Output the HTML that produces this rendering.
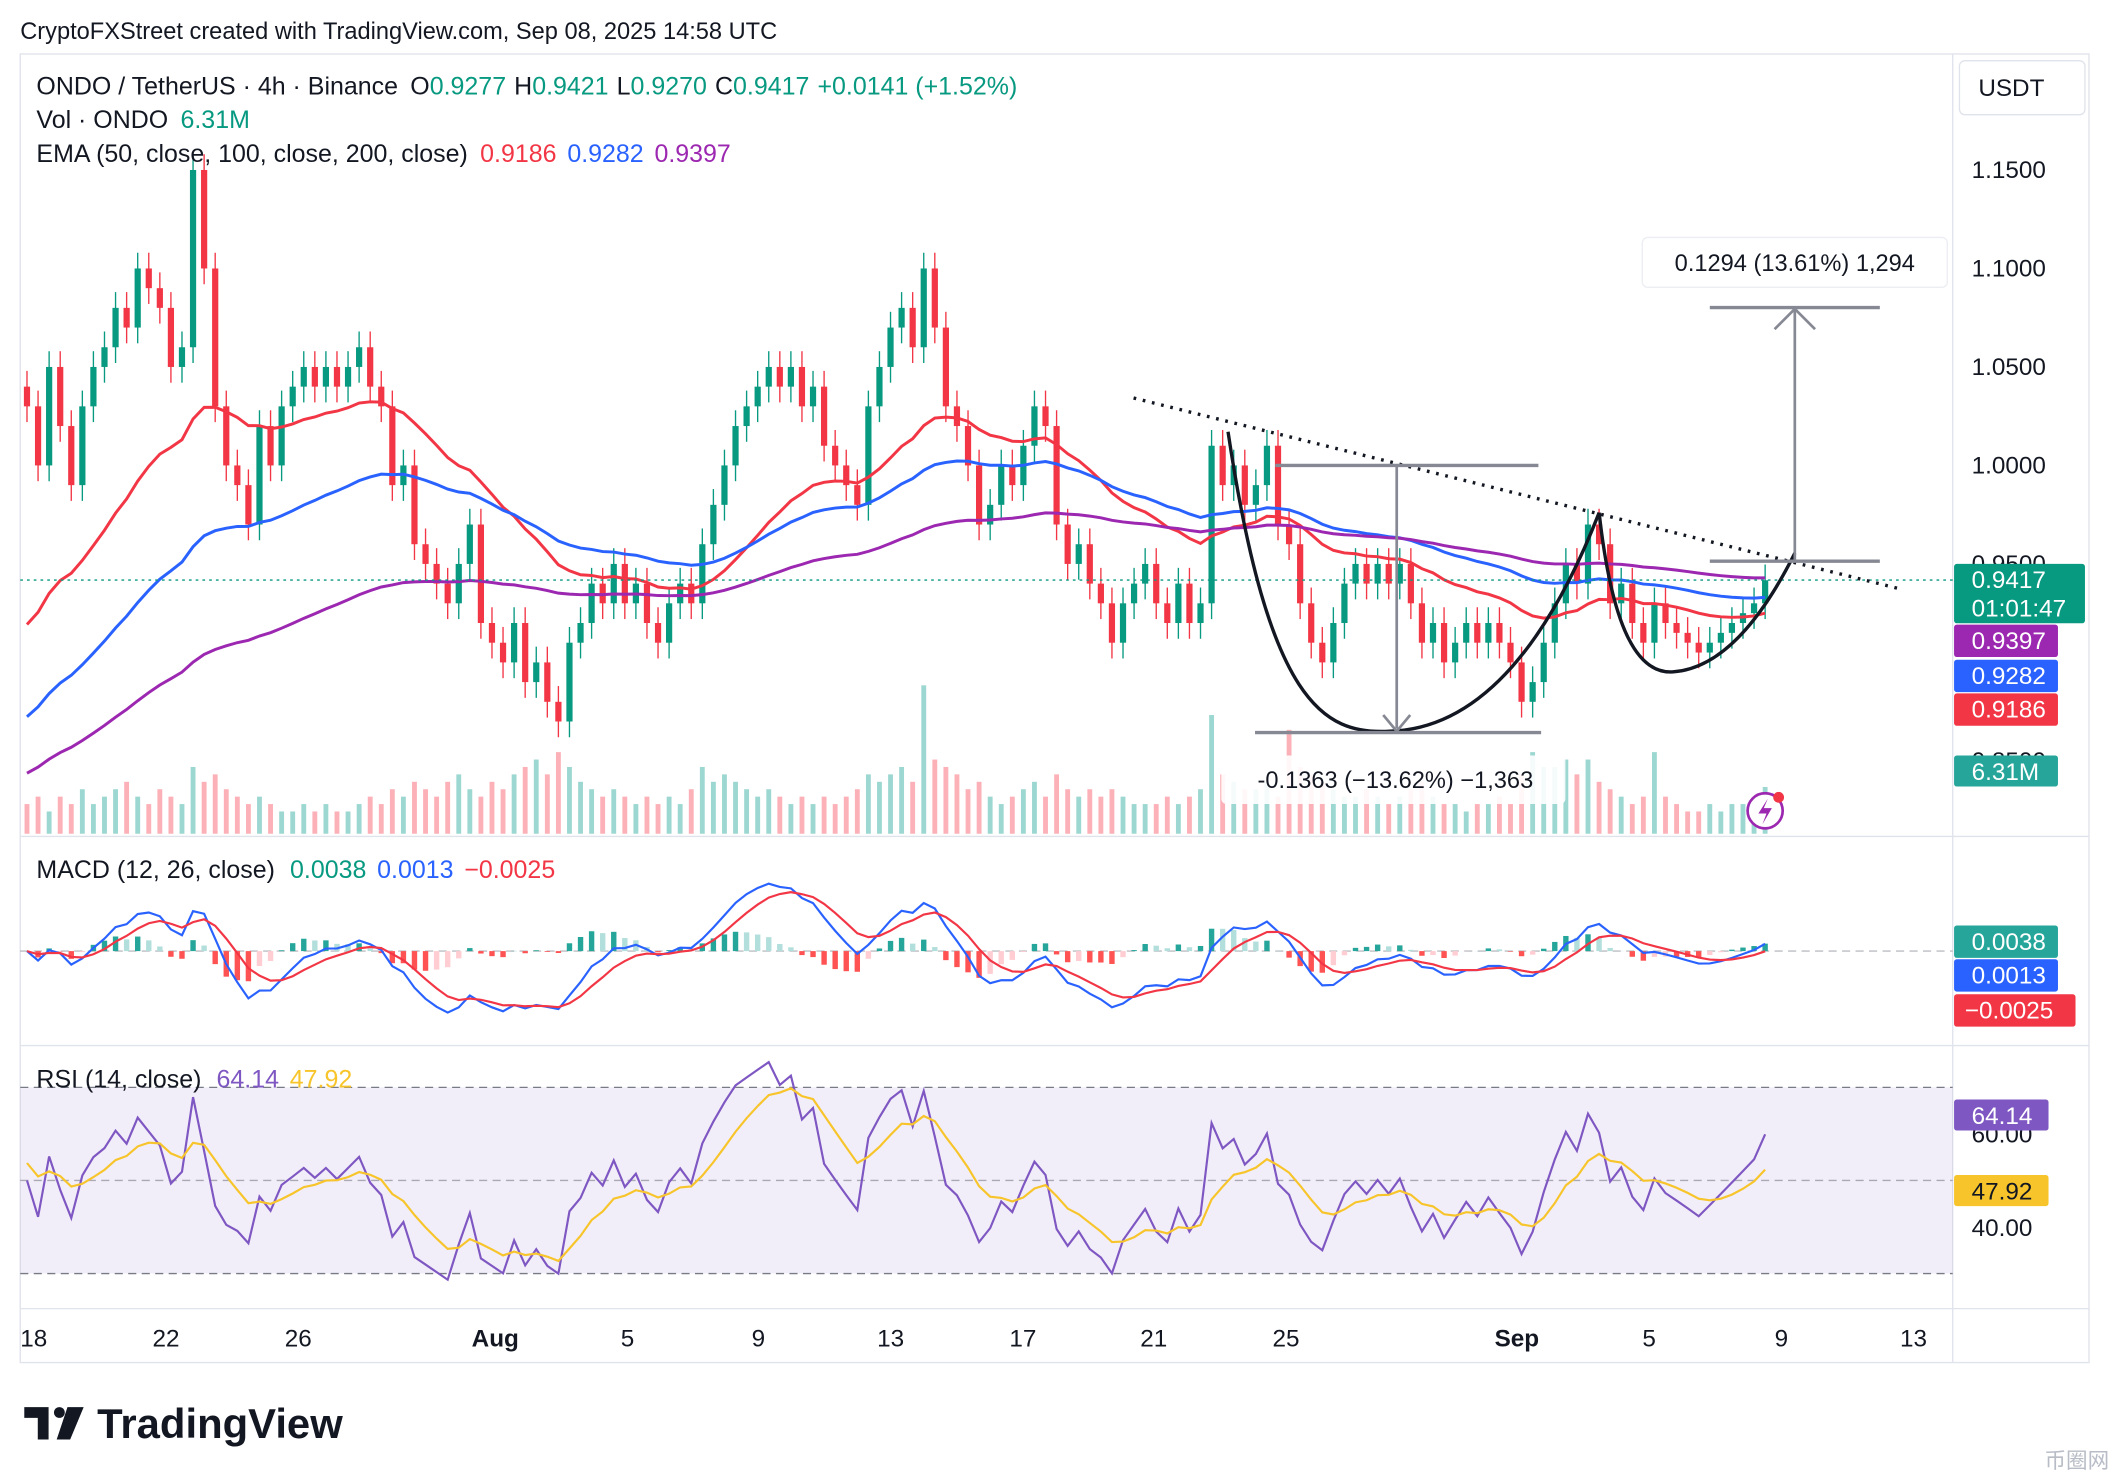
<!DOCTYPE html>
<html><head><meta charset="utf-8">
<style>
html,body{margin:0;padding:0;background:#fff;}
svg{display:block;font-family:"Liberation Sans",Arial,sans-serif;}
</style></head>
<body>
<svg id="chart" width="2116" height="1484" viewBox="0 0 1568 1100" preserveAspectRatio="none" xmlns="http://www.w3.org/2000/svg">
<rect x="0" y="0" width="1568" height="1100" fill="#fff"/>
<text x="15" y="29" font-size="17.5" fill="#131722">CryptoFXStreet created with TradingView.com, Sep 08, 2025 14:58 UTC</text>
<rect x="15" y="40" width="1533" height="970" fill="none" stroke="#e0e3eb"/>
<line x1="1447" y1="40" x2="1447" y2="1010" stroke="#e0e3eb"/>
<line x1="15" y1="620" x2="1548" y2="620" stroke="#e0e3eb"/>
<line x1="15" y1="775" x2="1548" y2="775" stroke="#e0e3eb"/>
<line x1="15" y1="970" x2="1548" y2="970" stroke="#e0e3eb"/>
<rect x="15" y="806" width="1432" height="138" fill="#7e57c2" fill-opacity="0.1"/>
<line x1="15" y1="806" x2="1447" y2="806" stroke="#787b86" stroke-dasharray="6 4"/>
<line x1="15" y1="875" x2="1447" y2="875" stroke="#787b86" stroke-opacity="0.6" stroke-dasharray="6 4"/>
<line x1="15" y1="944" x2="1447" y2="944" stroke="#787b86" stroke-dasharray="6 4"/>
<line x1="15" y1="705" x2="1447" y2="705" stroke="#787b86" stroke-opacity="0.5" stroke-dasharray="6 4"/>
<g id="vol"></g><g id="candles"></g><g id="emas"></g><g id="macd"></g><g id="rsi"></g>
<line x1="15" y1="430" x2="1447" y2="430" stroke="#089981" stroke-dasharray="2 3"/>
<g fill="none">
<line x1="840" y1="295" x2="1410" y2="437" stroke="#131722" stroke-width="2.5" stroke-dasharray="2 5"/>
<path d="M910,320 C940,520 980,545 1030,542 C1100,540 1150,470 1185,380" stroke="#131722" stroke-width="2.5"/>
<path d="M1185,380 C1195,470 1215,500 1240,498 C1280,495 1310,450 1330,410" stroke="#131722" stroke-width="2.5"/>
<line x1="945" y1="345" x2="1140" y2="345" stroke="#868993" stroke-width="2.5"/>
<line x1="930" y1="543" x2="1142" y2="543" stroke="#868993" stroke-width="2.5"/>
<line x1="1035" y1="345" x2="1035" y2="540" stroke="#868993" stroke-width="2"/>
<path d="M1025,530 L1035,542 L1045,530" stroke="#868993" stroke-width="2"/>
<line x1="1267" y1="416" x2="1393" y2="416" stroke="#868993" stroke-width="2.5"/>
<line x1="1267" y1="228" x2="1393" y2="228" stroke="#868993" stroke-width="2.5"/>
<line x1="1330" y1="416" x2="1330" y2="230" stroke="#868993" stroke-width="2"/>
<path d="M1315,244 L1330,229 L1345,244" stroke="#868993" stroke-width="2"/>
</g>
<g>
<rect x="1217" y="176" width="226" height="37" rx="4" fill="#fff" stroke="#eceef2"/>
<text x="1330" y="201" font-size="17.5" fill="#131722" text-anchor="middle">0.1294 (13.61%) 1,294</text>
</g>
<g>
<rect x="905" y="560" width="255" height="36" rx="4" fill="#fff" fill-opacity="0.9"/>
<text x="1034" y="584" font-size="17.5" fill="#131722" text-anchor="middle">-0.1363 (−13.62%) −1,363</text>
</g>
<g font-size="18.5">
<text x="27" y="70" fill="#131722">ONDO / TetherUS · 4h · Binance <tspan dx="4">O</tspan><tspan fill="#089981">0.9277</tspan><tspan dx="6">H</tspan><tspan fill="#089981">0.9421</tspan><tspan dx="6">L</tspan><tspan fill="#089981">0.9270</tspan><tspan dx="6">C</tspan><tspan fill="#089981">0.9417</tspan><tspan dx="6" fill="#089981">+0.0141 (+1.52%)</tspan></text>
<text x="27" y="95" fill="#131722">Vol · ONDO <tspan dx="4" fill="#089981">6.31M</tspan></text>
<text x="27" y="120" fill="#131722">EMA (50, close, 100, close, 200, close) <tspan dx="4" fill="#f23645">0.9186</tspan><tspan dx="8" fill="#2962ff">0.9282</tspan><tspan dx="8" fill="#9c27b0">0.9397</tspan></text>
<text x="27" y="651" fill="#131722">MACD (12, 26, close) <tspan dx="6" fill="#089981">0.0038</tspan><tspan dx="8" fill="#2962ff">0.0013</tspan><tspan dx="8" fill="#f23645">−0.0025</tspan></text>
<text x="27" y="806" fill="#131722">RSI (14, close) <tspan dx="6" fill="#7e57c2">64.14</tspan><tspan dx="8" fill="#f7c52b">47.92</tspan></text>
</g>
<g font-size="18" fill="#131722">
<rect x="1452" y="45" width="93" height="40" rx="4" fill="#fff" stroke="#e0e3eb"/>
<text x="1466" y="71">USDT</text>
<text x="1461" y="132">1.1500</text>
<text x="1461" y="205">1.1000</text>
<text x="1461" y="278">1.0500</text>
<text x="1461" y="351">1.0000</text>
<text x="1461" y="424">0.9500</text>
<text x="1461" y="570">0.8500</text>
<rect x="1448" y="418" width="97" height="44" rx="2" fill="#089981"/>
<text x="1461" y="436" fill="#fff">0.9417</text><text x="1461" y="457" fill="#fff">01:01:47</text>
<rect x="1448" y="463" width="77" height="24" rx="2" fill="#9c27b0"/><text x="1461" y="481" fill="#fff">0.9397</text>
<rect x="1448" y="489" width="77" height="24" rx="2" fill="#2962ff"/><text x="1461" y="507" fill="#fff">0.9282</text>
<rect x="1448" y="514" width="77" height="24" rx="2" fill="#f23645"/><text x="1461" y="532" fill="#fff">0.9186</text>
<rect x="1448" y="560" width="77" height="23" rx="2" fill="#26a69a"/><text x="1461" y="578" fill="#fff">6.31M</text>
<rect x="1448" y="686" width="77" height="24" rx="2" fill="#26a69a"/><text x="1461" y="704" fill="#fff">0.0038</text>
<rect x="1448" y="711" width="77" height="24" rx="2" fill="#2962ff"/><text x="1461" y="729" fill="#fff">0.0013</text>
<rect x="1448" y="737" width="90" height="24" rx="2" fill="#f23645"/><text x="1456" y="755" fill="#fff">−0.0025</text>
<text x="1461" y="847">60.00</text>
<rect x="1448" y="815" width="70" height="23" rx="2" fill="#7e57c2"/><text x="1461" y="833" fill="#fff">64.14</text>
<rect x="1448" y="871" width="70" height="23" rx="2" fill="#f7c52b"/><text x="1461" y="889" fill="#131722">47.92</text>
<text x="1461" y="916">40.00</text>
</g>
<g font-size="18" fill="#131722" text-anchor="middle">
<text x="25" y="998">18</text><text x="123" y="998">22</text><text x="221" y="998">26</text>
<text x="367" y="998" font-weight="bold">Aug</text><text x="465" y="998">5</text><text x="562" y="998">9</text>
<text x="660" y="998">13</text><text x="758" y="998">17</text><text x="855" y="998">21</text>
<text x="953" y="998">25</text><text x="1124" y="998" font-weight="bold">Sep</text><text x="1222" y="998">5</text>
<text x="1320" y="998">9</text><text x="1418" y="998">13</text>
</g>
<g>
<circle cx="1308" cy="601" r="13" fill="#fff" stroke="#9c27b0" stroke-width="2"/>
<path d="M1310,592 L1303,603 L1309,603 L1306,611 L1313,599 L1307,599 Z" fill="#9c27b0"/>
<circle cx="1318" cy="591" r="4" fill="#f23645"/>
</g>
<g>
<path d="M18,1043 h18 v24 h-8 v-16 h-10 z" fill="#131722"/>
<circle cx="44" cy="1047" r="4" fill="#131722"/>
<path d="M50,1043 h12 l-10,24 h-10 z" fill="#131722"/>
<text x="72" y="1066" font-size="31" font-weight="bold" fill="#131722">TradingView</text>
</g>
<text x="1515" y="1088" font-size="16" fill="#b8bcc6" font-family="'Liberation Sans','Noto Sans CJK SC',sans-serif">币圈网</text>
</svg>
<script>
const closes=[1.03,1.00,1.05, 1.02,0.99,1.03, 1.05,1.06,1.08, 1.07,1.10,1.09, 1.08,1.05,1.06,
1.15,1.10,1.03, 1.00,0.99,0.97, 1.02,1.00,1.03, 1.04,1.05,1.04, 1.05,1.04,1.05,
1.06,1.04,1.03, 0.99,1.00,0.96, 0.95,0.94,0.93, 0.95,0.97,0.92, 0.91,0.90,0.92,
0.89,0.90,0.88, 0.87,0.91,0.92, 0.94,0.93,0.95, 0.93,0.94,0.92, 0.91,0.93,0.94,
0.93,0.96,0.98, 1.00,1.02,1.03, 1.04,1.05,1.04, 1.05,1.03,1.04, 1.01,1.00,0.99,
0.98,1.03,1.05, 1.07,1.08,1.06, 1.10,1.07,1.03, 1.02,1.00,0.97, 0.98,1.00,0.99,
1.01,1.03,1.02, 0.97,0.95,0.96, 0.94,0.93,0.91, 0.93,0.94,0.95, 0.93,0.92,0.94,
0.92,0.93,1.01, 0.99,1.00,0.98, 0.99,1.01,0.97, 0.96,0.93,0.91, 0.90,0.92,0.94,
0.95,0.94,0.95, 0.94,0.95,0.93, 0.91,0.92,0.90, 0.91,0.92,0.91, 0.92,0.91,0.90,
0.88,0.89,0.91, 0.93,0.95,0.94, 0.97,0.96,0.93, 0.94,0.92,0.91, 0.93,0.92,0.915,
0.91,0.905,0.91, 0.915,0.92,0.925, 0.93,0.9417];
const vols=[4,5,3, 5,4,6, 4,5,6, 7,5,4, 6,5,4,
9,7,8, 6,5,4, 5,4,3, 3,4,3, 4,3,3,
4,5,4, 6,5,7, 6,5,7, 8,6,5, 7,6,8,
9,10,8, 11,9,7, 6,5,6, 5,4,5, 4,5,4,
6,9,7, 8,7,6, 5,6,5, 4,5,4, 5,4,5,
6,8,7, 8,9,7, 20,10,9, 8,6,7, 5,4,5,
6,7,5, 8,6,5, 6,5,6, 5,4,4, 4,5,4,
5,6,16, 8,7,6, 6,7,5, 14,9,8, 7,6,5,
5,6,5, 4,5,6, 7,5,4, 4,3,4, 4,5,4,
8,11,9, 9,10,8, 10,7,6, 5,4,5, 11,5,4,
3,3,4, 3,4,4, 4,6.3];
const emaPeriods=[25,50,100];
const emaSeeds=[0.91,0.866,0.84];
const NS="http://www.w3.org/2000/svg";
const X0=20, X1=1308, n=closes.length, step=(X1-X0)/(n-1);
const xOf=i=>X0+i*step;
const yP=p=>345-(p-1)*1460;
const yV=v=>618-v*5.5;
const yR=r=>875-(r-50)*3.45;
function mk(tag,attrs,parent){const e=document.createElementNS(NS,tag);for(const k in attrs)e.setAttribute(k,attrs[k]);parent.appendChild(e);return e;}
const UP="#089981",DN="#f23645";
const gv=document.getElementById('vol'),gc=document.getElementById('candles'),ge=document.getElementById('emas'),gm=document.getElementById('macd'),gr=document.getElementById('rsi');
const wick=0.008;
for(let i=0;i<n;i++){
  const o=i?closes[i-1]:1.04,c=closes[i],up=c>=o,col=up?UP:DN,x=xOf(i);
  const v=mk('rect',{x:x-1.8,y:yV(vols[i]),width:3.6,height:618-yV(vols[i]),fill:up?'#26a69a':'#f7525f','fill-opacity':0.45},gv);
  
  
  const w=mk('line',{x1:x,x2:x,y1:yP(Math.max(o,c)+wick),y2:yP(Math.min(o,c)-wick),stroke:col,'stroke-width':1},gc);
  
  
  const b=mk('rect',{x:x-2.3,y:yP(Math.max(o,c)),width:4.6,height:Math.max(1,Math.abs(yP(o)-yP(c))),fill:col},gc);
  
  
}
function ema(arr,p,seed){const k=2/(p+1);let e=seed;return arr.map(v=>e=v*k+e*(1-k));}
const emaCols=['#f23645','#2962ff','#9c27b0'],emaNames=['ema-50-line','ema-100-line','ema-200-line'];
emaPeriods.forEach((p,j)=>{
  const s=ema(closes,p,emaSeeds[j]);
  const pl=mk('polyline',{points:s.map((v,i)=>xOf(i)+','+yP(v)).join(' '),fill:'none',stroke:emaCols[j],'stroke-width':2.2},ge);
  
  
});
const ef=ema(closes,6,closes[0]),es=ema(closes,13,closes[0]);
const macd=ef.map((v,i)=>v-es[i]);
const sig=ema(macd,5,0);
const mx=Math.max(...macd.map(Math.abs),...sig.map(Math.abs));
const yM=v=>705-v/mx*50;
macd.forEach((m,i)=>{const h=m-sig[i],hp=i?macd[i-1]-sig[i-1]:0;
  const col=h>=0?(h>=hp?'#26a69a':'#b2dfdb'):(h<hp?'#ff5252':'#ffcdd2');
  const r=mk('rect',{x:xOf(i)-2,y:Math.min(yM(h),705),width:4,height:Math.abs(yM(h)-705),fill:col},gm);
  
  
});
const ml=mk('polyline',{points:macd.map((v,i)=>xOf(i)+','+yM(v)).join(' '),fill:'none',stroke:'#2962ff','stroke-width':1.6},gm);


const sl=mk('polyline',{points:sig.map((v,i)=>xOf(i)+','+yM(v)).join(' '),fill:'none',stroke:'#f23645','stroke-width':1.6},gm);


const rsi=[];let ag=0.01,al=0.01;const P=10;
closes.forEach((c,i)=>{const d=i?c-closes[i-1]:0;ag=(ag*(P-1)+Math.max(d,0))/P;al=(al*(P-1)+Math.max(-d,0))/P;rsi.push(100-100/(1+ag/(al||1e-9)));});
const rma=ema(rsi,7,55);
const rl=mk('polyline',{points:rsi.map((v,i)=>xOf(i)+','+yR(v)).join(' '),fill:'none',stroke:'#7e57c2','stroke-width':1.6},gr);


const rml=mk('polyline',{points:rma.map((v,i)=>xOf(i)+','+yR(v)).join(' '),fill:'none',stroke:'#f7c52b','stroke-width':1.6},gr);


</script>
</body></html>
